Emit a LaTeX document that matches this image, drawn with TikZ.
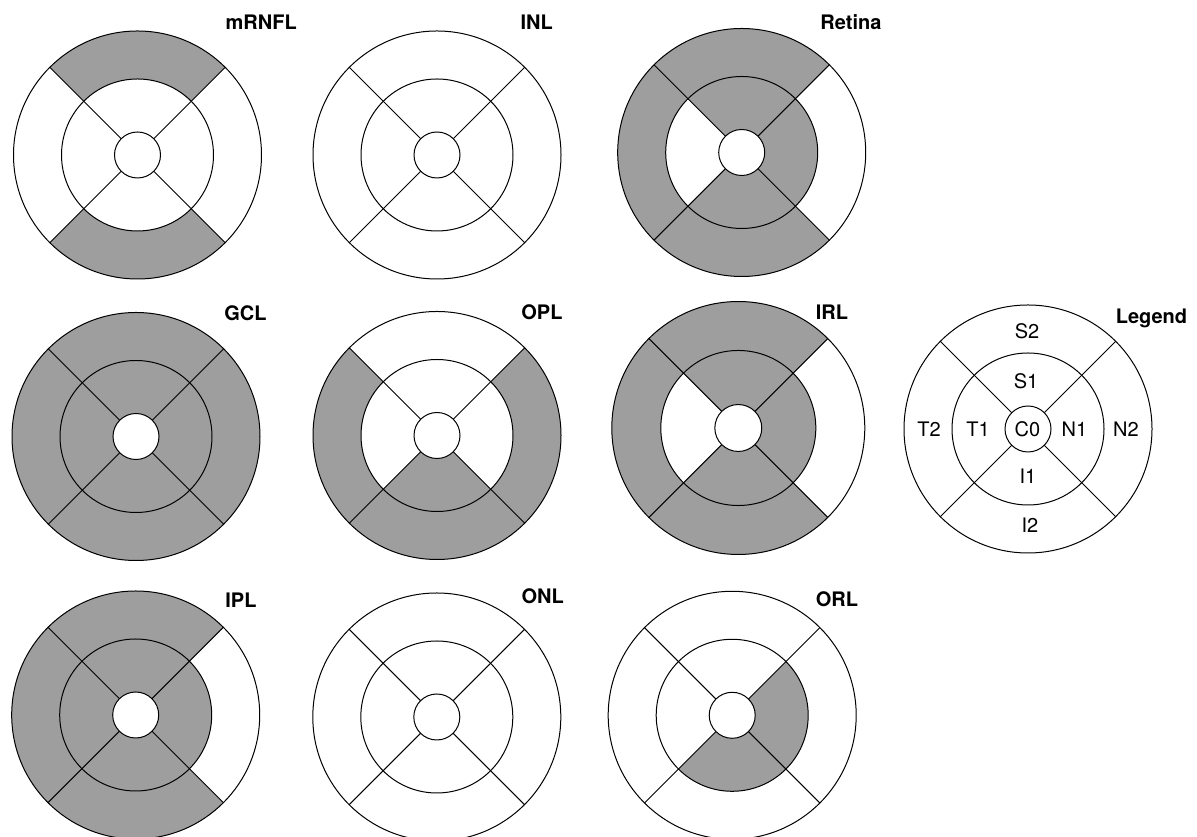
\documentclass[tikz,border=0pt]{standalone}
\usepackage{fontspec}
\setmainfont{TeX Gyre Heros}
\usetikzlibrary{calc}
\definecolor{shadegray}{RGB}{158,158,158}
\tikzset{
  ring/.style={draw=black,line width=1pt},
  sector/.style={fill=shadegray},
  title/.style={font=\fontsize{20}{24}\selectfont\bfseries,anchor=base east,inner sep=0pt},
  seglabel/.style={font=\fontsize{20}{24}\selectfont,inner sep=0pt}
}
% #1 center, #2 scale, #3 list of shaded sectors as angle/ring
\newcommand{\retmap}[3]{%
\begin{scope}[shift={#1},scale=#2]
  \foreach \a/\rg in {#3}{%
    \ifnum\rg=2 \def\rin{76}\def\rout{124}\else\def\rin{23}\def\rout{76}\fi
    \pgfmathsetmacro\b{\a+90}%
    \fill[sector] (\a:\rin) arc[start angle=\a,end angle=\b,radius=\rin]
      -- (\b:\rout) arc[start angle=\b,end angle=\a,radius=\rout] -- cycle;
  }
  \draw[ring] (0,0) circle[radius=124];
  \draw[ring] (0,0) circle[radius=76];
  \foreach \d in {45,135,225,315}{\draw[ring] (\d:23) -- (\d:124);}
  \draw[ring,fill=white] (0,0) circle[radius=23];
\end{scope}}
\begin{document}
\begin{tikzpicture}[x=1pt,y=1pt]
\useasboundingbox[fill=white] (0,0) rectangle (1197,837);
% sectors: S=45, T=135, I=225, N=-45 ; ring 2 = outer, 1 = inner
% row 1
\retmap{(137.5,682)}{1}{45/2,225/2}
\node[title] (mrnfl) at (297,807) {mRNFL};
\retmap{(437,682)}{1}{}
\node[title] (inl) at (553,807) {INL};
\retmap{(741.7,684.5)}{1}{45/2,135/2,225/2,45/1,-45/1,225/1}
\node[title] (retina) at (881.7,807) {Retina};
% row 2
\retmap{(136,400.5)}{1}{45/2,135/2,225/2,-45/2,45/1,135/1,225/1,-45/1}
\node[title] (gcl) at (266.7,516) {GCL};
\retmap{(437,401.5)}{1}{135/2,225/2,-45/2,225/1}
\node[title] (opl) at (562.7,517) {OPL};
\retmap{(738.3,409)}{1.02}{45/2,135/2,225/2,45/1,-45/1,225/1}
\node[title] (irl) at (848.3,517) {IRL};
\retmap{(1028,408)}{1}{}
\node[title] (legend) at (1187.3,513) {Legend};
% legend labels
\node[seglabel] (s2) at (1027,506) {S2};
\node[seglabel] (s1) at (1026,456) {S1};
\node[seglabel] (t2) at (929,407.5) {T2};
\node[seglabel] (t1) at (978,407.5) {T1};
\node[seglabel] (c0) at (1027.5,407.5) {C0};
\node[seglabel] (n1) at (1074.5,407.5) {N1};
\node[seglabel] (n2) at (1126,407.5) {N2};
\node[seglabel] (i1) at (1028,361) {I1};
\node[seglabel] (i2) at (1030,312) {I2};
% row 3
\retmap{(135.7,122)}{1}{45/2,135/2,225/2,45/1,135/1,225/1,-45/1}
\node[title] (ipl) at (256.7,229.7) {IPL};
\retmap{(436.8,120)}{1}{}
\node[title] (onl) at (564,233.7) {ONL};
\retmap{(732.2,121.7)}{1}{-45/1,225/1}
\node[title] (orl) at (858.3,230.3) {ORL};
\end{tikzpicture}
\end{document}
